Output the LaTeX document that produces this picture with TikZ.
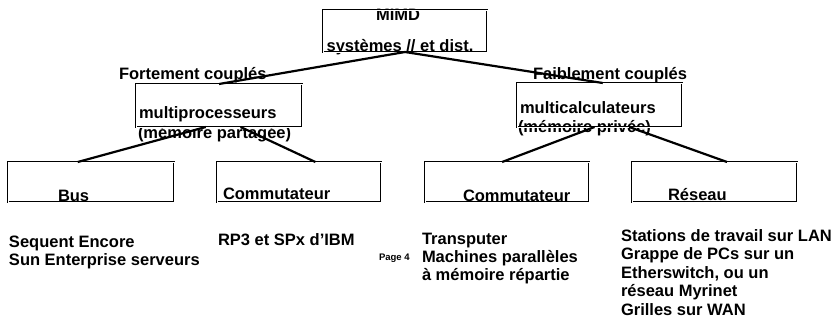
\documentclass[tikz,border=0pt]{standalone}
\usepackage{fontspec}
\setmainfont{Liberation Sans}
\usetikzlibrary{calc}
\tikzset{
  txt/.style={inner sep=0pt, outer sep=0pt, anchor=base west, font=\bfseries\fontsize{16.5}{18}\selectfont},
  ctxt/.style={txt, anchor=base},
  box/.style={draw, double, double distance=0.6pt, line width=1pt, inner sep=0pt, outer sep=0pt, rectangle},
  conn/.style={line width=2.2pt}
}
\begin{document}
\begin{tikzpicture}[x=1pt,y=-1pt]
\useasboundingbox (0,0) rectangle (836,325);
% texts
\node[ctxt] (mimdt) at (398,20) {MIMD};
\node[ctxt] (syst) at (400,51) {systèmes // et dist.};
\node[txt] (fort) at (119,79) {Fortement couplés};
\node[txt] (faib) at (533,79) {Faiblement couplés};
\node[txt] (mpt) at (139,118) {multiprocesseurs};
\node[txt] (mpp) at (138,138) {(mémoire partagée)};
\node[txt] (mct) at (520,113) {multicalculateurs};
\node[txt] (mcp) at (518,132) {(mémoire privée)};
\node[txt] (bust) at (58,201) {Bus};
\node[txt] (com1t) at (223,199) {Commutateur};
\node[txt] (com2t) at (463,201) {Commutateur};
\node[txt] (rest) at (668,200) {Réseau};
\node[txt] (ex1a) at (9,247) {Sequent Encore};
\node[txt] (ex1b) at (9,265.5) {Sun Enterprise serveurs};
\node[txt] (ex2) at (218,245) {RP3 et SPx d’IBM};
\node[txt, font=\bfseries\fontsize{9.5}{11}\selectfont] (page) at (379,260) {Page 4};
\node[txt] (ex3a) at (422,244) {Transputer};
\node[txt] (ex3b) at (422,262) {Machines parallèles};
\node[txt] (ex3c) at (422,280) {à mémoire répartie};
\node[txt] (ex4a) at (621,241) {Stations de travail sur LAN};
\node[txt] (ex4b) at (621,259.5) {Grappe de PCs sur un};
\node[txt] (ex4c) at (621,278) {Etherswitch, ou un};
\node[txt] (ex4d) at (621,296.5) {réseau Myrinet};
\node[txt] (ex4e) at (621,315) {Grilles sur WAN};
% boxes
\node[box, minimum width=164pt, minimum height=42pt] (mimd) at (405,31) {};
\node[box, minimum width=166pt, minimum height=43pt] (mp) at (219,105.5) {};
\node[box, minimum width=165pt, minimum height=44pt] (mc) at (599.5,105) {};
\node[box, minimum width=166pt, minimum height=40pt] (bus) at (91,182) {};
\node[box, minimum width=164pt, minimum height=40pt] (com1) at (299,182) {};
\node[box, minimum width=164pt, minimum height=40pt] (com2) at (507,182) {};
\node[box, minimum width=165pt, minimum height=40pt] (res) at (714.5,182) {};
% connectors
\draw[conn] (mimd.south) -- (mp.north);
\draw[conn] (mimd.south) -- ($(mc.north west)!0.52!(mc.north east)$);
\draw[conn] ($(mp.south west)!0.42!(mp.south east)$) -- ($(bus.north west)!0.42!(bus.north east)$);
\draw[conn] ($(mp.south west)!0.63!(mp.south east)$) -- ($(com1.north west)!0.6!(com1.north east)$);
\draw[conn] ($(mc.south west)!0.47!(mc.south east)$) -- ($(com2.north west)!0.47!(com2.north east)$);
\draw[conn] ($(mc.south west)!0.68!(mc.south east)$) -- ($(res.north west)!0.576!(res.north east)$);
\end{tikzpicture}
\end{document}
